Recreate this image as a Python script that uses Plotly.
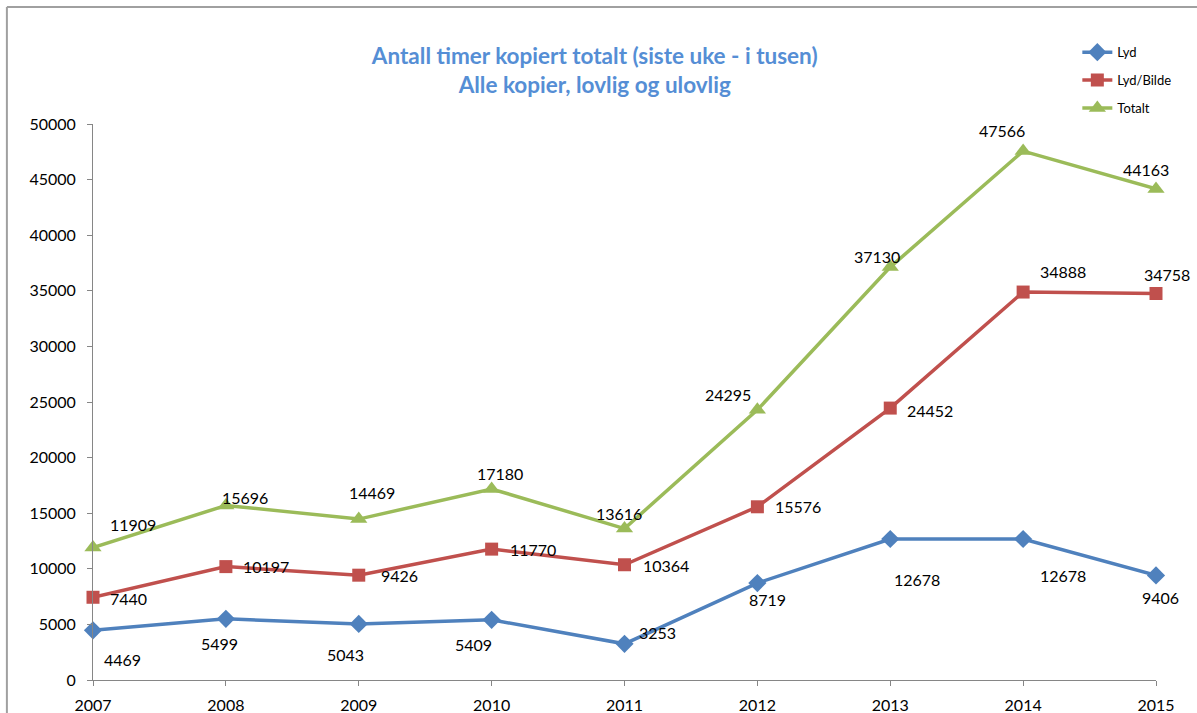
import plotly.graph_objects as go

years = [2007, 2008, 2009, 2010, 2011, 2012, 2013, 2014, 2015]
lyd = [4469, 5499, 5043, 5409, 3253, 8719, 12678, 12678, 9406]
lyd_bilde = [7440, 10197, 9426, 11770, 10364, 15576, 24452, 34888, 34758]
totalt = [11909, 15696, 14469, 17180, 13616, 24295, 37130, 47566, 44163]

# label offsets in pixels (dx right, dy down) relative to each point
lyd_off = [(29, 29), (-6, 25), (-13, 31), (-18, 25), (33, -11), (10, 16), (27, 40), (40, 36), (4, 22)]
lb_off = [(35, 1), (40, 0), (41, 0), (41, 0), (41, 1), (41, 0), (40, 2), (40, -21), (11, -19)]
tot_off = [(40, -23), (19, -8), (13, -27), (8, -15), (-6, -15), (-29, -15), (-13, -11), (-21, -21), (-10, -19)]

FONT = "Lato, 'Open Sans', Arial, sans-serif"

series = [
    ("Lyd", lyd, "#4F81BD", "diamond", 14, lyd_off),
    ("Lyd/Bilde", lyd_bilde, "#C0504D", "square", 13, lb_off),
    ("Totalt", totalt, "#9BBB59", "triangle-up", 15, tot_off),
]

fig = go.Figure()
annotations = []
for i, (name, vals, color, sym, msize, offs) in enumerate(series):
    fig.add_trace(go.Scatter(
        x=years, y=vals, name=name, mode="lines+markers",
        line=dict(color=color, width=3.5),
        marker=dict(symbol=sym, size=msize, color=color),
        cliponaxis=False, legendgroup=name,
    ))
    for x, v, (dx, dy) in zip(years, vals, offs):
        annotations.append(dict(
            x=x, y=v, xref="x", yref="y", text=str(v), showarrow=False,
            xshift=dx, yshift=-dy, font=dict(family=FONT, size=16, color="#000000"),
            xanchor="center", yanchor="middle",
        ))

fig.update_layout(
    width=1197, height=713,
    margin=dict(l=93, r=41, t=124, b=33),
    paper_bgcolor="white", plot_bgcolor="white",
    font=dict(family=FONT, size=16, color="#000000"),
    title=dict(
        text="Antall timer kopiert totalt (siste uke - i tusen)<br>Alle kopier, lovlig og ulovlig",
        x=0.472, xref="paper", xanchor="center",
        y=1 - 64 / 713, yref="container", yanchor="middle",
        font=dict(family=FONT, size=22.5, color="#558ED5", weight="bold"),
    ),
    showlegend=True,
    legend=dict(
        x=0.926, y=1.156, xanchor="left", yanchor="top",
        font=dict(family=FONT, size=13, color="#000000"),
        tracegroupgap=8, bgcolor="rgba(0,0,0,0)",
    ),
    annotations=annotations,
    shapes=[
        dict(type="line", xref="paper", yref="paper", x0=-0.081, x1=1.3, y0=1.2104, y1=1.2104,
             line=dict(color="#A0A0A0", width=2)),
        dict(type="line", xref="paper", yref="paper", x0=-0.081, x1=-0.081, y0=1.2104, y1=-0.3,
             line=dict(color="#A0A0A0", width=2)),
    ],
)

fig.update_xaxes(
    range=[2007, 2015], tickmode="array", tickvals=years, ticktext=[str(y) for y in years],
    showgrid=False, zeroline=False, showline=True, linecolor="#868686", linewidth=1,
    ticks="outside", ticklen=5, tickcolor="#868686", ticklabelstandoff=6, automargin=False,
    tickfont=dict(family=FONT, size=16, color="#000000"),
)
fig.update_yaxes(
    range=[0, 50000], tickmode="linear", tick0=0, dtick=5000, tickformat="d",
    showgrid=False, zeroline=False, showline=True, linecolor="#868686", linewidth=1,
    ticks="outside", ticklen=5, tickcolor="#868686", ticklabelstandoff=8, automargin=False,
    tickfont=dict(family=FONT, size=16, color="#000000"),
)

fig.write_html("out.html", config={"displayModeBar": False},
               post_script="document.body.style.margin='0';")
